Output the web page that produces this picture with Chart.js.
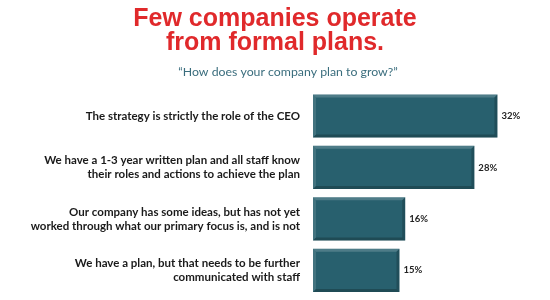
<!DOCTYPE html>
<html lang="en">
<head>
    <meta charset="UTF-8">
    <title>Few companies operate from formal plans</title>
    <script src="https://cdn.jsdelivr.net/npm/chart.js"></script>
    <style>
        html, body { margin: 0; padding: 0; background: #ffffff; }
        #wrap { width: 550px; height: 300px; }
    </style>
</head>
<body>
<div id="wrap"><canvas id="planChart" width="550" height="300"></canvas></div>

<script>
    // Data
    var categories = [
        ["The strategy is strictly the role of the CEO"],
        ["We have a 1-3 year written plan and all staff know", "their roles and actions to achieve the plan"],
        ["Our company has some ideas, but has not yet", "worked through what our primary focus is, and is not"],
        ["We have a plan, but that needs to be further", "communicated with staff"]
    ];
    var shares = [32, 28, 16, 15];
    var titleLines = ["Few companies operate", "from formal plans."];
    var subtitleText = "\u201CHow does your company plan to grow?\u201D";

    var barColor = "#28606e";
    var labelFont = "Lato";

    // Bevel look + value labels at the end of each bar
    var barDecor = {
        id: "barDecor",
        afterDatasetsDraw: function (chart) {
            var ctx = chart.ctx;
            var meta = chart.getDatasetMeta(0);
            ctx.save();
            meta.data.forEach(function (bar, i) {
                var left = bar.base, right = bar.x;
                var top = bar.y - bar.height / 2, bottom = bar.y + bar.height / 2;
                var b = 3;
                // top edge (light)
                ctx.fillStyle = "rgba(255,255,255,0.18)";
                ctx.beginPath();
                ctx.moveTo(left, top); ctx.lineTo(right, top);
                ctx.lineTo(right - b, top + b); ctx.lineTo(left + b, top + b);
                ctx.closePath(); ctx.fill();
                // left edge (light)
                ctx.fillStyle = "rgba(255,255,255,0.12)";
                ctx.beginPath();
                ctx.moveTo(left, top); ctx.lineTo(left + b, top + b);
                ctx.lineTo(left + b, bottom - b); ctx.lineTo(left, bottom);
                ctx.closePath(); ctx.fill();
                // right edge (dark)
                ctx.fillStyle = "rgba(0,0,0,0.18)";
                ctx.beginPath();
                ctx.moveTo(right, top); ctx.lineTo(right, bottom);
                ctx.lineTo(right - b, bottom - b); ctx.lineTo(right - b, top + b);
                ctx.closePath(); ctx.fill();
                // bottom edge (dark)
                ctx.fillStyle = "rgba(0,0,0,0.22)";
                ctx.beginPath();
                ctx.moveTo(left, bottom); ctx.lineTo(right, bottom);
                ctx.lineTo(right - b, bottom - b); ctx.lineTo(left + b, bottom - b);
                ctx.closePath(); ctx.fill();

                // value label
                ctx.fillStyle = "#222222";
                ctx.font = "bold 9.5px " + labelFont;
                ctx.textAlign = "left";
                ctx.textBaseline = "middle";
                ctx.fillText(shares[i] + "%", right + 4, bar.y);
            });
            ctx.restore();
        },
        afterDraw: function (chart) {
            // subtitle sits a little right of the title centre
            var ctx = chart.ctx;
            ctx.save();
            ctx.fillStyle = "#3a6d7d";
            ctx.font = "12.3px " + labelFont;
            ctx.textAlign = "center";
            ctx.textBaseline = "alphabetic";
            ctx.fillText(subtitleText, 288, 76);
            ctx.restore();
        }
    };

    var ctx = document.getElementById("planChart").getContext("2d");
    new Chart(ctx, {
        type: "bar",
        data: {
            labels: categories,
            datasets: [{
                data: shares,
                backgroundColor: barColor,
                borderWidth: 0,
                categoryPercentage: 1,
                barPercentage: 0.84
            }]
        },
        options: {
            indexAxis: "y",
            responsive: false,
            animation: false,
            layout: { padding: { left: 18, right: 18, top: 0, bottom: 4 } },
            plugins: {
                legend: { display: false },
                tooltip: { enabled: false },
                title: {
                    display: true,
                    text: titleLines,
                    color: "#e0292b",
                    font: { family: "Liberation Sans", size: 25, weight: "bold", lineHeight: 0.95 },
                    padding: { top: 7, bottom: 0 }
                },
                subtitle: {
                    display: true,
                    text: " ",
                    color: "rgba(0,0,0,0)",
                    font: { size: 14 },
                    padding: { top: 4, bottom: 15 }
                }
            },
            scales: {
                x: {
                    display: false,
                    min: 0,
                    max: 38
                },
                y: {
                    grid: { display: false, drawTicks: false },
                    border: { display: false },
                    ticks: {
                        color: "#1a1a1a",
                        padding: 13,
                        font: { family: labelFont, size: 11.5, weight: "bold", lineHeight: 1.22 }
                    },
                    afterFit: function (scale) {
                        scale.width = 295;
                        scale.paddingTop = 0;
                        scale.paddingBottom = 0;
                    }
                }
            }
        },
        plugins: [barDecor]
    });
</script>
</body>
</html>
